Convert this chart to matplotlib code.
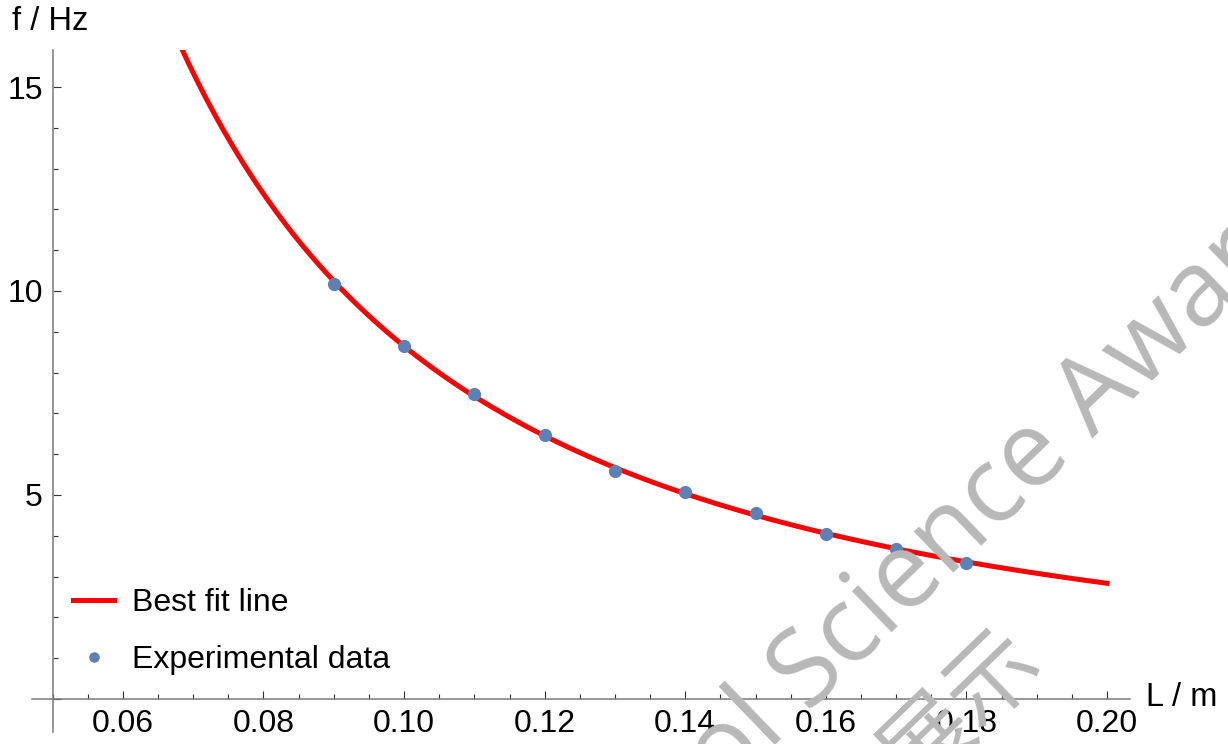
import numpy as np
import matplotlib
matplotlib.use("Agg")
import matplotlib.pyplot as plt
from matplotlib.ticker import MultipleLocator, FixedLocator

plt.rcParams['font.family'] = ['Liberation Sans', 'DejaVu Sans']

length_m = [0.09, 0.10, 0.11, 0.12, 0.13, 0.14, 0.15, 0.16, 0.17, 0.18]
freq_hz = [10.17, 8.65, 7.47, 6.47, 5.60, 5.08, 4.57, 4.04, 3.67, 3.34]

x_ticks = [0.06, 0.08, 0.10, 0.12, 0.14, 0.16, 0.18, 0.20]
y_ticks = [5, 10, 15]

# power law best fit f = a * L^b
b, ln_a = np.polyfit(np.log(length_m), np.log(freq_hz), 1)
L_fit = np.linspace(0.05, 0.20, 400)
f_fit = np.exp(ln_a) * L_fit ** b

W, H = 1228, 744
fig = plt.figure(figsize=(W / 100, H / 100), dpi=100)
ax = fig.add_axes([31.5 / W, 12.4 / H, 1098 / W, 681.3 / H])

ax.plot(L_fit, f_fit, color='#ff0000', lw=3.6, label='Best fit line', zorder=3)
ax.plot(length_m, freq_hz, 'o', color='#5e81b5', ms=9.5, mec='none',
        label='Experimental data', zorder=4)

ax.set_xlim(0.047, 0.2032)
ax.set_ylim(-0.8, 15.9)

for s in ['top', 'right']:
    ax.spines[s].set_visible(False)
ax.spines['left'].set_position(('data', 0.05))
ax.spines['bottom'].set_position(('data', 0))
for s in ['left', 'bottom']:
    ax.spines[s].set_color('#7a7a7a')
    ax.spines[s].set_linewidth(1.1)

ax.xaxis.set_major_locator(FixedLocator(x_ticks))
ax.xaxis.set_minor_locator(MultipleLocator(0.005))
ax.set_xticklabels(['%.2f' % v for v in x_ticks])
ax.yaxis.set_major_locator(FixedLocator([0] + y_ticks))
ax.yaxis.set_minor_locator(MultipleLocator(1))
ax.set_yticklabels([''] + [str(v) for v in y_ticks])

ax.tick_params(which='both', direction='in', color='#333333', width=0.8,
               labelsize=23, pad=7)
ax.tick_params(which='major', length=6)
ax.tick_params(which='minor', length=3.5)

fig.text(12 / W, 1 - 22 / H, 'f / Hz', fontsize=23.5, va='center', ha='left')
fig.text(1146 / W, 1 - 698 / H, 'L / m', fontsize=23.5, va='center', ha='left')

ax.legend(loc='upper left', bbox_to_anchor=(60 / W, 1 - 575 / H),
          bbox_transform=fig.transFigure, frameon=False, fontsize=23,
          handlelength=1.3, handletextpad=0.55, labelspacing=0.85,
          markerscale=0.8, borderaxespad=0)

# watermark
fig.text(935 / W, 1 - 552 / H, 'School Science Awards', fontsize=76,
         family=['Open Sans', 'DejaVu Sans'], color='#b8b8b8',
         rotation=44, rotation_mode='anchor', ha='center', va='center', zorder=0)
fig.text(995 / W, 1 - 615 / H, '展示', fontsize=66,
         family=['Noto Sans CJK TC', 'DejaVu Sans'], color='#b8b8b8',
         rotation=44, rotation_mode='anchor', ha='right', va='top', zorder=0)

fig.savefig('out.png', dpi=100)
